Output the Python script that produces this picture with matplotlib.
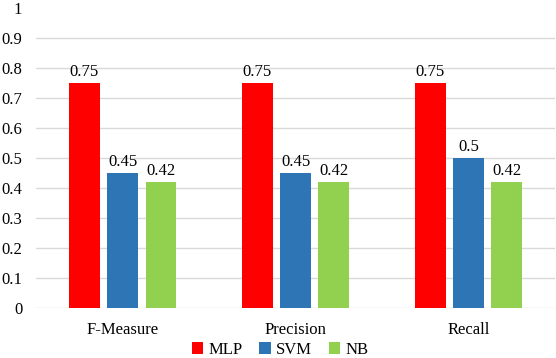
import numpy as np
import matplotlib.pyplot as plt

categories = ['F-Measure', 'Precision', 'Recall']
mlp = [0.75, 0.75, 0.75]
svm = [0.45, 0.45, 0.5]
nb = [0.42, 0.42, 0.42]

plt.rcParams['font.family'] = 'Liberation Serif'

fig = plt.figure(figsize=(5.56, 3.58), dpi=100)
ax = fig.add_axes([0.065, 0.14, 0.933, 0.838])

x = np.arange(len(categories))
w = 0.179
off = 0.222
series = [('MLP', mlp, '#FF0000', -off), ('SVM', svm, '#2E75B6', 0), ('NB', nb, '#92D050', off)]
for name, vals, col, o in series:
    bars = ax.bar(x + o, vals, w, color=col, label=name, zorder=3)
    for b, v in zip(bars, vals):
        ax.text(b.get_x() + b.get_width() / 2, v + 0.01, '%g' % v,
                ha='center', va='bottom', fontsize=12)

ax.set_xlim(-0.5, 2.5)
ax.set_ylim(0, 1)
ax.set_yticks(np.arange(0, 1.01, 0.1))
ax.set_yticklabels(['0', '0.1', '0.2', '0.3', '0.4', '0.5', '0.6', '0.7', '0.8', '0.9', '1'])
ax.set_xticks(x)
ax.set_xticklabels(categories)
ax.tick_params(length=0, labelsize=12)
ax.tick_params(axis='y', pad=10)
ax.tick_params(axis='x', pad=10)
ax.grid(axis='y', color='#D9D9D9', linewidth=1, zorder=0)
ax.get_ygridlines()[-1].set_visible(False)
for s in ax.spines.values():
    s.set_visible(False)

ax.legend(loc='upper center', bbox_to_anchor=(0.47, -0.075), ncol=3, frameon=False,
          fontsize=12, handlelength=0.7, handleheight=0.7, handletextpad=0.3,
          columnspacing=1.0, borderpad=0.2)

fig.savefig('out.png', dpi=100)
